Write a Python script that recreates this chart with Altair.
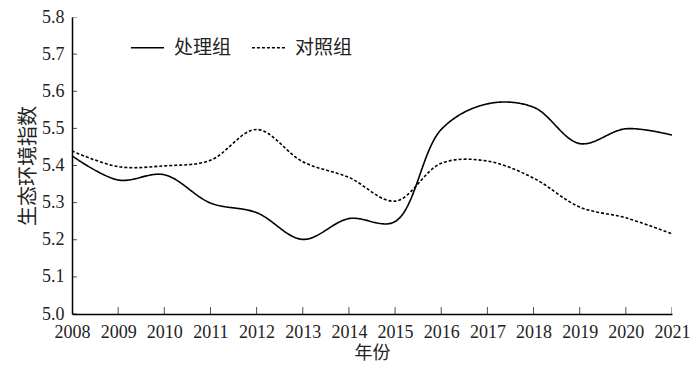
import altair as alt
import pandas as pd

years = list(range(2008, 2022))
treat = [5.426, 5.361, 5.375, 5.299, 5.273, 5.201, 5.257, 5.249, 5.497, 5.566, 5.557, 5.459, 5.499, 5.482]
control = [5.439, 5.397, 5.399, 5.414, 5.497, 5.410, 5.368, 5.304, 5.406, 5.412, 5.366, 5.288, 5.259, 5.216]
groups = ["处理组", "对照组"]
y_ticks = [5.0, 5.1, 5.2, 5.3, 5.4, 5.5, 5.6, 5.7, 5.8]

rows = []
for g, vals in zip(groups, [treat, control]):
    for yr, v in zip(years, vals):
        rows.append({"year": yr, "value": v, "group": g})
df = pd.DataFrame(rows)

FONT = "'Liberation Serif', 'Noto Sans CJK SC', serif"
CJK = "'Noto Sans CJK SC', sans-serif"
TXT = "#222222"

xscale = alt.Scale(domain=[2008, 2021], nice=False, zero=False)
yscale = alt.Scale(domain=[5.0, 5.8], nice=False, zero=False)

xaxis = alt.Axis(values=years, format="d", title="年份", ticks=False,
                 labelFontSize=18, labelPadding=9, titleFontSize=18,
                 titlePadding=3, labelFlush=False, labelOverlap=False)
yaxis = alt.Axis(values=y_ticks, format=".1f", title="生态环境指数", ticks=False,
                 labelFontSize=18, labelPadding=8, titleFontSize=20,
                 titlePadding=3, labelOverlap=False, labelFlush=False)

lines = alt.Chart(df).mark_line(interpolate="catmull-rom", strokeWidth=1.6, color="black").encode(
    x=alt.X("year:Q", scale=xscale, axis=xaxis),
    y=alt.Y("value:Q", scale=yscale, axis=yaxis),
    strokeDash=alt.StrokeDash("group:N", scale=alt.Scale(domain=groups, range=[[1, 0], [3, 2]]),
                              legend=alt.Legend(title=None, orient="none", legendX=58, legendY=13,
                                                direction="horizontal", symbolType="stroke",
                                                symbolSize=1100, symbolStrokeWidth=1.6,
                                                symbolStrokeColor="black",
                                                labelFontSize=19, labelColor=TXT,
                                                labelOffset=9, columnPadding=16,
                                                labelFont=CJK)),
)

xt = pd.DataFrame({"year": years, "value": [5.0] * len(years)})
xticks = alt.Chart(xt).mark_tick(orient="vertical", size=14, thickness=1, color="black", clip=True).encode(
    x=alt.X("year:Q", scale=xscale, axis=xaxis), y=alt.Y("value:Q", scale=yscale, axis=yaxis))

yt = pd.DataFrame({"year": [2008] * len(y_ticks), "value": y_ticks})
yticks = alt.Chart(yt).mark_tick(orient="horizontal", size=10, thickness=1, color="black", clip=True).encode(
    x=alt.X("year:Q", scale=xscale, axis=xaxis), y=alt.Y("value:Q", scale=yscale, axis=yaxis))

chart = alt.layer(lines, xticks, yticks).properties(
    width=600, height=297,
    padding={"left": 64, "top": 9, "right": 19, "bottom": 50},
    autosize=alt.AutoSizeParams(type="none"),
).configure_view(stroke=None).configure_axis(
    domainColor="black", domainWidth=1.5, grid=False,
    labelFont=FONT, titleFont=CJK, labelColor=TXT, titleColor=TXT,
    titleFontWeight="normal",
)

chart.save("out.html", embed_options={"renderer": "svg", "actions": False})
